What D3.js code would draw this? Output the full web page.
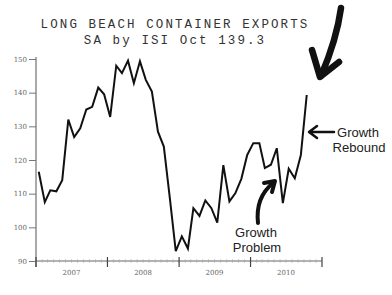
<!DOCTYPE html>
<html>
<head>
<meta charset="utf-8">
<script src="https://cdn.jsdelivr.net/npm/d3@7"></script>
<style>
  body { margin: 0; background: #fff; }
  svg { display: block; }
</style>
</head>
<body>
<svg id="chart" width="392" height="295"></svg>
<script>
// Monthly exports index, Jan 2007 .. Oct 2010
const startMonth = new Date(2007, 0, 15);
const values = [
  116.5, 107.5, 111, 110.7, 114, 132, 126.8, 129.4, 135, 135.8, 141.5, 139.5,
  132.8, 148, 145.8, 149.5, 142.8, 149.3, 143.8, 140.3, 128.4, 124, 108.5, 92.9,
  97.3, 93.7, 105.7, 103.4, 108, 105.7, 101.4, 118.5, 107.7, 110.1, 114.4, 121.5,
  125, 125, 117.6, 118.6, 123.5, 107.2, 117.4, 114.6, 121.5, 139.3
];
const yTicks = [90, 100, 110, 120, 130, 140, 150];
const years = [2007, 2008, 2009, 2010];
const titleLines = ["LONG BEACH CONTAINER EXPORTS", "SA by ISI Oct 139.3"];

const series = values.map((v, i) => ({
  date: d3.timeMonth.offset(startMonth, i),
  value: v
}));

const svg = d3.select("#chart");
const margin = {top: 59, left: 36, bottom: 261, right: 322};

const x = d3.scaleTime()
  .domain([new Date(2007, 0, 1), new Date(2011, 0, 1)])
  .range([margin.left, margin.right]);

const y = d3.scaleLinear()
  .domain([90, 150])
  .range([margin.bottom, margin.top]);

// Title (typewriter look: small mono with wide spacing)
svg.selectAll("text.title")
  .data(titleLines)
  .enter().append("text")
  .attr("class", "title")
  .attr("x", 175)
  .attr("y", (d, i) => 28 + i * 16)
  .attr("text-anchor", "middle")
  .style("font-family", "'Liberation Mono', 'DejaVu Sans Mono', monospace")
  .style("font-size", "12.5px")
  .style("letter-spacing", "2.1px")
  .style("fill", "#333")
  .text(d => d);

// Y axis
const yAxis = svg.append("g")
  .attr("transform", `translate(${margin.left},0)`)
  .call(d3.axisLeft(y).tickValues(yTicks).tickSize(7).tickPadding(2).tickSizeOuter(0));
yAxis.select(".domain").attr("stroke", "#555").attr("d", `M0,${margin.top - 2}V${margin.bottom + 6}`);
yAxis.selectAll("line").attr("stroke", "#777");
yAxis.selectAll("text")
  .style("font-family", "'DejaVu Serif', serif")
  .style("font-size", "7px")
  .style("fill", "#666");

// X axis: year boundaries as ticks, minor monthly ticks
const xg = svg.append("g").attr("transform", `translate(0,${margin.bottom})`);
xg.append("line")
  .attr("x1", margin.left).attr("x2", margin.right)
  .attr("stroke", "#666").attr("stroke-width", 1);
xg.selectAll("line.minor")
  .data(d3.timeMonth.range(new Date(2007, 0, 1), new Date(2011, 0, 1)))
  .enter().append("line")
  .attr("class", "minor")
  .attr("x1", d => x(d)).attr("x2", d => x(d))
  .attr("y1", -1.5).attr("y2", 1.5)
  .attr("stroke", "#aaa");
xg.selectAll("line.major")
  .data(years.concat([2011]).map(yr => new Date(yr, 0, 1)))
  .enter().append("line")
  .attr("class", "major")
  .attr("x1", d => x(d)).attr("x2", d => x(d))
  .attr("y1", -4).attr("y2", 6)
  .attr("stroke", "#444").attr("stroke-width", 1.2);
xg.selectAll("text")
  .data(years)
  .enter().append("text")
  .attr("x", d => x(new Date(d, 6, 1)))
  .attr("y", 14)
  .attr("text-anchor", "middle")
  .style("font-family", "'DejaVu Serif', serif")
  .style("font-size", "7px")
  .style("fill", "#666")
  .text(d => d);

// Data line
const line = d3.line()
  .x(d => x(d.date))
  .y(d => y(d.value));

svg.append("path")
  .datum(series)
  .attr("fill", "none")
  .attr("stroke", "#111")
  .attr("stroke-width", 2)
  .attr("stroke-linejoin", "miter")
  .attr("d", line);

// Hand-drawn annotations
const ann = svg.append("g")
  .attr("fill", "none")
  .attr("stroke", "#111")
  .attr("stroke-linecap", "round")
  .attr("stroke-linejoin", "round");

// big arrow at top right
ann.append("path")
  .attr("stroke-width", 6.5)
  .attr("d", "M341,8 C338,30 330,55 321,76");
ann.append("path")
  .attr("stroke-width", 6.5)
  .attr("d", "M312,50 L320,77 L339,62");

// growth rebound arrow
ann.append("path")
  .attr("stroke-width", 2.5)
  .attr("d", "M334,132 L310,132 M317,126 L309,132 L317,138");

// growth problem curved arrow
ann.append("path")
  .attr("stroke-width", 4)
  .attr("d", "M258,223 C256,205 262,192 273,183");
ann.append("path")
  .attr("stroke-width", 4)
  .attr("d", "M264,183 L275,181 L272,192");

const label = svg.append("g")
  .style("font-family", "'Liberation Sans', Arial, sans-serif")
  .style("font-size", "13px")
  .style("fill", "#222");
label.append("text").attr("x", 358).attr("y", 137).attr("text-anchor", "middle").text("Growth");
label.append("text").attr("x", 359).attr("y", 152).attr("text-anchor", "middle").text("Rebound");
label.append("text").attr("x", 256).attr("y", 237).attr("text-anchor", "middle").text("Growth");
label.append("text").attr("x", 257).attr("y", 252).attr("text-anchor", "middle").text("Problem");
</script>
</body>
</html>
